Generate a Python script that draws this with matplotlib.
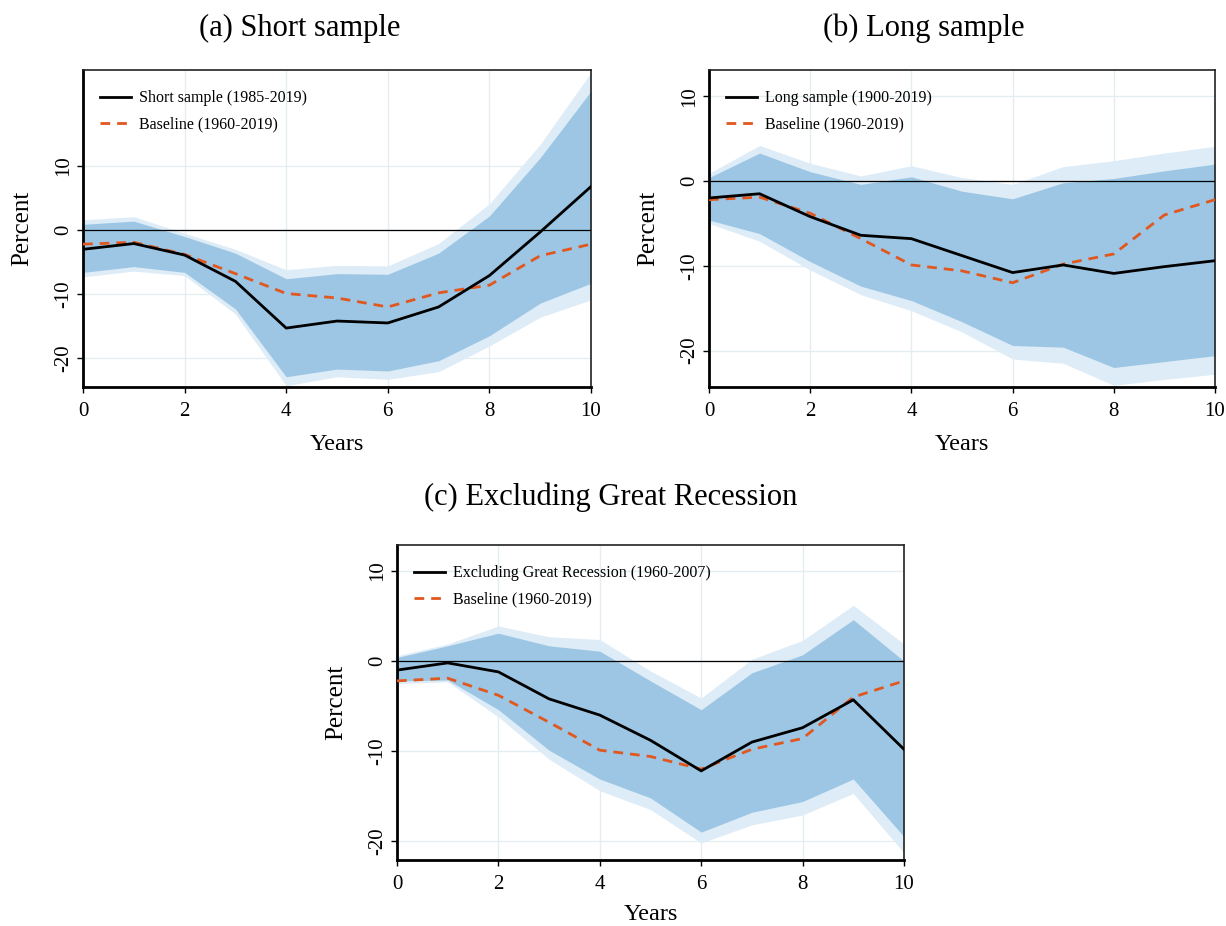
import matplotlib
matplotlib.use("Agg")
import matplotlib.pyplot as plt
import numpy as np

plt.rcParams['font.family'] = ['Liberation Serif', 'DejaVu Serif']
plt.rcParams['axes.unicode_minus'] = False

years = [0, 1, 2, 3, 4, 5, 6, 7, 8, 9, 10]
baseline = [-2.2, -1.9, -3.8, -6.8, -9.9, -10.6, -12.0, -9.8, -8.6, -4.0, -2.2]

# (a) Short sample
short_irf = [-3.0, -2.1, -3.9, -8.0, -15.3, -14.2, -14.5, -12.0, -7.1, -0.3, 6.8]
short_in_lo = [-6.6, -5.7, -6.6, -12.3, -22.9, -21.7, -22.0, -20.4, -16.5, -11.4, -8.3]
short_in_hi = [0.9, 1.4, -1.0, -3.6, -7.6, -6.8, -6.9, -3.6, 2.2, 11.3, 21.7]
short_out_lo = [-7.3, -6.4, -7.1, -13.1, -24.3, -22.9, -23.3, -22.1, -18.1, -13.6, -10.9]
short_out_hi = [1.6, 2.1, -0.5, -3.0, -6.2, -5.5, -5.6, -2.1, 4.1, 13.4, 24.6]

# (b) Long sample
long_irf = [-2.0, -1.5, -4.2, -6.4, -6.8, -8.8, -10.8, -9.9, -10.9, -10.1, -9.4]
long_in_lo = [-4.6, -6.2, -9.5, -12.4, -14.1, -16.6, -19.4, -19.6, -22.0, -21.3, -20.6]
long_in_hi = [0.4, 3.3, 1.1, -0.4, 0.5, -1.2, -2.1, -0.2, 0.3, 1.2, 2.0]
long_out_lo = [-5.0, -7.1, -10.5, -13.4, -15.3, -17.8, -21.0, -21.5, -24.1, -23.4, -22.8]
long_out_hi = [0.9, 4.2, 2.1, 0.6, 1.8, 0.4, -0.4, 1.7, 2.4, 3.3, 4.1]

# (c) Excluding Great Recession
excl_irf = [-1.0, -0.2, -1.2, -4.2, -6.0, -8.8, -12.2, -9.0, -7.4, -4.3, -9.8]
excl_in_lo = [-2.2, -2.1, -5.4, -9.9, -13.1, -15.2, -19.0, -16.8, -15.6, -13.1, -19.5]
excl_in_hi = [0.4, 1.7, 3.1, 1.7, 1.1, -2.2, -5.4, -1.3, 0.7, 4.6, 0.0]
excl_out_lo = [-2.5, -2.3, -6.2, -10.9, -14.4, -16.5, -20.2, -18.2, -17.1, -14.7, -21.3]
excl_out_hi = [0.6, 1.9, 3.9, 2.7, 2.4, -1.1, -4.1, 0.2, 2.3, 6.2, 1.9]

titles = ["(a) Short sample", "(b) Long sample", "(c) Excluding Great Recession"]
labels = ["Short sample (1985-2019)", "Long sample (1900-2019)",
          "Excluding Great Recession (1960-2007)"]
base_label = "Baseline (1960-2019)"
xticks = [0, 2, 4, 6, 8, 10]
yticks = [-20, -10, 0, 10]

INNER = '#9cc6e4'
OUTER = '#ddecf7'
ORANGE = '#e0581f'
GRID = '#e4eef1'

fig = plt.figure(figsize=(12.26, 9.26), dpi=100)

W, H = 1226.0, 926.0
def ax_at(l, t, r, b):
    return fig.add_axes([l / W, 1 - b / H, (r - l) / W, (b - t) / H])

panels = [
    (ax_at(83, 70, 591, 387), short_irf, short_in_lo, short_in_hi, short_out_lo, short_out_hi, (-24.5, 25.0), labels[0], (300, 28), 58),
    (ax_at(709, 70, 1215, 387), long_irf, long_in_lo, long_in_hi, long_out_lo, long_out_hi, (-24.3, 13.1), labels[1], (924, 28), 58),
    (ax_at(397, 545, 904, 860), excl_irf, excl_in_lo, excl_in_hi, excl_out_lo, excl_out_hi, (-22.1, 12.9), labels[2], (611, 497), 54),
]

for i, (ax, irf, ilo, ihi, olo, ohi, ylim, lab, tpos, xlpad) in enumerate(panels):
    ax.fill_between(years, olo, ohi, color=OUTER, lw=0, zorder=1)
    ax.fill_between(years, ilo, ihi, color=INNER, lw=0, zorder=2)
    for xt in xticks:
        ax.axvline(xt, color=GRID, lw=1.0, zorder=0.5)
    for yt in yticks:
        ax.axhline(yt, color=GRID, lw=1.0, zorder=0.5)
    ax.axhline(0, color='black', lw=0.9, zorder=3)
    ax.plot(years, irf, color='black', lw=2.0, label=lab, zorder=5)
    ax.plot(years, baseline, color=ORANGE, lw=2.0, ls=(0, (3.5, 2.5)), label=base_label, zorder=4)
    ax.set_xlim(0, 10)
    ax.set_ylim(*ylim)
    ax.set_xticks(xticks)
    ax.set_yticks(yticks)
    ax.tick_params(axis='both', direction='out', length=4, width=1.0, labelsize=15)
    ax.tick_params(axis='y', pad=3)
    ax.tick_params(axis='x', pad=7)
    for t in ax.get_yticklabels():
        t.set_rotation(90)
        t.set_va('center')
    for s in ['left', 'bottom']:
        ax.spines[s].set_linewidth(2.0)
    for s in ['top', 'right']:
        ax.spines[s].set_linewidth(1.2)
        ax.spines[s].set_color('#222222')
    ax.set_xlabel("Years", fontsize=17.5, va='center')
    ax.set_ylabel("Percent", fontsize=18, va='center')
    bb = ax.get_position()
    hpx = bb.height * H
    wpx = bb.width * W
    ax.xaxis.set_label_coords(0.5, -xlpad / hpx)
    ax.yaxis.set_label_coords(-61 / wpx, 0.5)
    ax.legend(loc='upper left', frameon=False, fontsize=11.5, handlelength=1.9,
              handletextpad=0.5, borderaxespad=0.0, labelspacing=0.65,
              bbox_to_anchor=(11 / wpx, 1 - 14 / hpx))
    fig.text(tpos[0] / W, 1 - tpos[1] / H, titles[i], ha='center', va='center', fontsize=22)

fig.savefig("out.png", dpi=100)
